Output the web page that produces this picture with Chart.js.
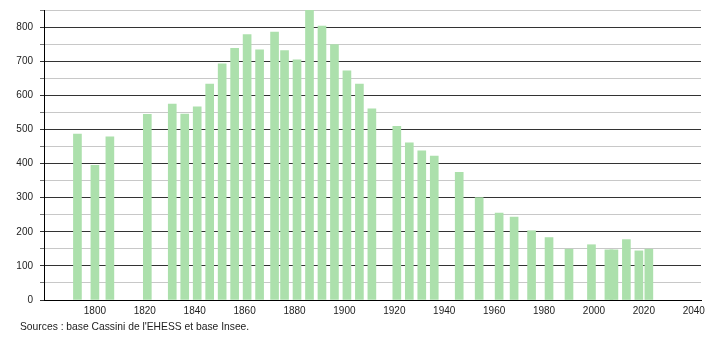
<!DOCTYPE html>
<html>
<head>
<meta charset="utf-8">
<script src="https://cdn.jsdelivr.net/npm/chart.js@4.4.0/dist/chart.umd.min.js"></script>
<style>
  body { margin: 0; background: #fff; }
  #wrap { position: relative; width: 710px; height: 340px; }
  #source { position: absolute; left: 20px; top: 321px; font: 10.3px "Liberation Sans", Arial, sans-serif; color: #222; }
</style>
</head>
<body>
<div id="wrap">
  <canvas id="myChart" width="710" height="340"></canvas>
  <div id="source">Sources : base Cassini de l'EHESS et base Insee.</div>
</div>
<script>
// années de recensement et population
let years = [1793, 1800, 1806, 1821, 1831, 1836, 1841, 1846, 1851, 1856,
  1861, 1866, 1872, 1876, 1881, 1886, 1891, 1896, 1901, 1906,
  1911, 1921, 1926, 1931, 1936, 1946, 1954, 1962, 1968, 1975,
  1982, 1990, 1999, 2006, 2008, 2013, 2018, 2022]
let population = [486, 395, 478, 544, 574, 545, 566, 633, 692, 738,
  778, 733, 785, 731, 704, 852, 803, 749, 672, 633,
  560, 509, 461, 437, 422, 374, 300, 255, 243, 203,
  183, 149, 162, 147, 147, 177, 144, 149]

// graduations de l'axe x
let xTicks = [1800, 1820, 1840, 1860, 1880, 1900, 1920, 1940, 1960, 1980, 2000, 2020, 2040]

let xMin = 1779.6
let xMax = 2042.9
let yMax = 850

let points = years.map((y, i) => ({ x: y, y: population[i] }))

let ctx = document.getElementById('myChart').getContext('2d')

let font = { family: '"Liberation Sans", Arial, sans-serif', size: 10 }

let myChart = new Chart(ctx, {
  type: 'bar',
  data: {
    datasets: [{
      data: points,
      backgroundColor: 'rgb(172,224,172)',
      barThickness: 8
    }]
  },
  options: {
    responsive: false,
    animation: false,
    layout: { padding: { top: 10, right: 9, left: 0, bottom: 0 } },
    plugins: { legend: { display: false }, tooltip: { enabled: false } },
    scales: {
      x: {
        type: 'linear',
        min: xMin,
        max: xMax,
        offset: false,
        grid: { display: false, drawTicks: false },
        border: { color: '#000', width: 1 },
        afterBuildTicks: (scale) => { scale.ticks = xTicks.map(v => ({ value: v })) },
        ticks: {
          font: font,
          color: '#222',
          padding: 5,
          maxRotation: 0,
          autoSkip: false,
          callback: (v) => String(v)
        },
        afterFit: (scale) => { scale.height = 40 }
      },
      y: {
        min: 0,
        max: yMax,
        grid: {
          color: (c) => c.tick && c.tick.value % 100 === 0 ? '#333' : '#c8c8c8',
          tickColor: (c) => c.tick && c.tick.value % 100 === 0 ? '#333' : '#777',
          tickLength: 4
        },
        border: { color: '#000', width: 1 },
        ticks: {
          stepSize: 50,
          font: font,
          color: '#222',
          padding: 7,
          callback: (v) => v % 100 === 0 ? String(v) : ''
        },
        afterFit: (scale) => {
          scale.width = 44
          scale.paddingTop = 0
          scale.paddingBottom = 0
        }
      }
    }
  }
})
</script>
</body>
</html>
